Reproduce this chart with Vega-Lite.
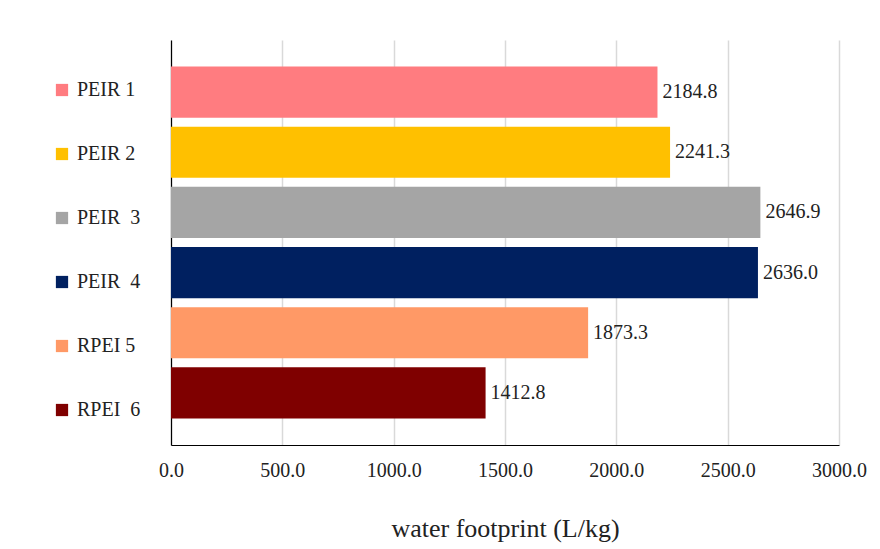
{
  "$schema": "https://vega.github.io/schema/vega-lite/v6.json",
  "autosize": "none",
  "width": 668,
  "height": 405,
  "padding": {"left": 171, "top": 40, "right": 41, "bottom": 104},
  "background": "white",
  "data": {
    "values": [
      {"name": "PEIR 1", "value": 2184.8},
      {"name": "PEIR 2", "value": 2241.3},
      {"name": "PEIR\u00a0\u00a03", "value": 2646.9},
      {"name": "PEIR\u00a0\u00a04", "value": 2636.0},
      {"name": "RPEI 5", "value": 1873.3},
      {"name": "RPEI\u00a0\u00a06", "value": 1412.8}
    ]
  },
  "encoding": {
    "y": {
      "field": "name",
      "type": "nominal",
      "sort": null,
      "scale": {"paddingInner": 0.15, "paddingOuter": 0.44},
      "axis": {"title": null, "labels": false, "ticks": false, "domainColor": "#000000", "domainWidth": 1.2, "grid": false}
    },
    "x": {
      "field": "value",
      "type": "quantitative",
      "scale": {"domain": [0, 3000], "nice": false},
      "axis": {
        "title": "water footprint (L/kg)",
        "titleFont": "Liberation Serif",
        "titleFontSize": 26,
        "titleFontWeight": "normal",
        "titleColor": "#222222",
        "titlePadding": 35,
        "values": [0, 500, 1000, 1500, 2000, 2500, 3000],
        "format": ".1f",
        "labelFont": "Liberation Serif",
        "labelFontSize": 20,
        "labelColor": "#222222",
        "labelPadding": 15,
        "labelFlush": false,
        "ticks": false,
        "domainColor": "#000000",
        "domainWidth": 1.2,
        "grid": true,
        "gridColor": "#d9d9d9",
        "gridWidth": 1.5
      }
    }
  },
  "layer": [
    {
      "mark": {"type": "bar"},
      "encoding": {
        "color": {
          "field": "name",
          "type": "nominal",
          "sort": null,
          "scale": {"range": ["#ff7c80", "#ffc000", "#a5a5a5", "#002060", "#ff9966", "#7f0000"]},
          "legend": {
            "title": null,
            "orient": "none",
            "legendX": -119,
            "legendY": 40,
            "symbolType": "square",
            "symbolSize": 150,
            "symbolStrokeWidth": 0,
            "labelFont": "Liberation Serif",
            "labelFontSize": 20,
            "labelColor": "#222222",
            "labelOffset": 5,
            "rowPadding": 44
          }
        }
      }
    },
    {
      "mark": {"type": "text", "align": "left", "dx": 5, "font": "Liberation Serif", "fontSize": 20, "color": "#222222"},
      "encoding": {
        "text": {"field": "value", "type": "quantitative", "format": ".1f"}
      }
    }
  ],
  "config": {"view": {"stroke": null}}
}
